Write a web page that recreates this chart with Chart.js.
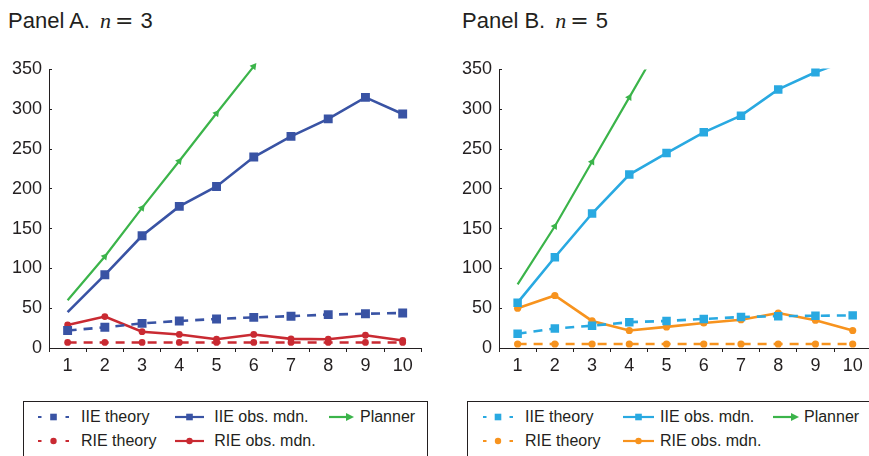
<!DOCTYPE html>
<html><head><meta charset="utf-8">
<script src="https://cdn.jsdelivr.net/npm/chart.js@4"></script>
<style>
html,body{margin:0;padding:0;background:#fff;}
body{width:869px;height:456px;overflow:hidden;position:relative;font-family:'Liberation Sans',Arial,sans-serif;color:#231f20;}
.title{position:absolute;font-size:22px;line-height:22px;white-space:nowrap;}
.m{font-family:'Liberation Serif','Times New Roman',serif;font-style:italic;margin-left:4px;}
.eq{font-family:'DejaVu Serif',serif;font-weight:300;margin:0 7px 0 4px;}
.wrap{position:absolute;top:0;width:440px;height:380px;}
.legend{position:absolute;border:1px solid #231f20;box-sizing:border-box;}
.lab{position:absolute;font-size:16px;line-height:20px;height:20px;white-space:nowrap;}
.ico{position:absolute;}
</style></head><body>
<div class="title" style="left:8px;top:10px">Panel A.&nbsp;<span class="m">n</span><span class="eq">=</span>3</div>
<div class="title" style="left:462px;top:10px">Panel B.&nbsp;<span class="m">n</span><span class="eq">=</span>5</div>
<div class="wrap" style="left:0px"><canvas id="cA" width="440" height="380"></canvas></div>
<div class="wrap" style="left:450px"><canvas id="cB" width="440" height="380"></canvas></div>
<div id="legA" class="legend" style="left:22.7px;top:400.7px;width:405.3px;height:70px"></div>
<div id="legB" class="legend" style="left:467.3px;top:400.7px;width:420px;height:70px"></div>
<script>
// ---- data ----
const categories = ['1','2','3','4','5','6','7','8','9','10'];
const yTicks = [0, 50, 100, 150, 200, 250, 300, 350];
const seriesLabels = ['IIE theory', 'IIE obs. mdn.', 'Planner', 'RIE theory', 'RIE obs. mdn.'];

// Panel A, n = 3
const aIieTheory = [22, 26, 31, 34, 36.5, 38.5, 40, 42, 43, 44];
const aIieObs    = [45, 92, 141, 178, 203, 240, 266, 288, 315, 294];
const aPlanner   = [60, 115, 176, 235, 295, 354, null, null, null, null];
const aRieTheory = [7, 7, 7, 7, 7, 7, 7, 7, 7, 7];
const aRieObs    = [29, 39.5, 20.5, 17, 11, 17, 11.5, 11, 16, 9.5];

// Panel B, n = 5
const bIieTheory = [18, 24.5, 28, 32.5, 34, 36.5, 39, 40, 40.5, 41];
const bIieObs    = [57, 114, 169, 218, 245, 271, 292, 325, 346.5, 364];
const bPlanner   = [80, 153, 234, 315, 396, null, null, null, null, null];
const bRieTheory = [5, 5, 5, 5, 5, 5, 5, 5, 5, 5];
const bRieObs    = [50, 66, 34, 22, 26.5, 31.5, 35.5, 44, 35, 22];

const INK = '#231f20';
const FONT = "'Liberation Sans', Arial, sans-serif";

function arrowRotation(ctx) {
  const ch = ctx.chart, i = ctx.dataIndex;
  const xs = ch.scales.x, ys = ch.scales.y;
  const d = ctx.dataset.data;
  if (!xs || !ys || i < 1 || d[i] == null || d[i-1] == null) return 0;
  const dx = xs.getPixelForValue(i) - xs.getPixelForValue(i - 1);
  const dy = ys.getPixelForValue(d[i]) - ys.getPixelForValue(d[i - 1]);
  return Math.atan2(dx, -dy) * 180 / Math.PI;
}

function makePanel(id, s, col, opt) {
  const sq = opt.sq, dot = opt.dot;
  const datasets = [
    {label: seriesLabels[0], data: s.iieTheory, borderColor: col.iie, backgroundColor: col.iie,
     borderWidth: 2.6, borderDash: [9, 7], pointStyle: 'rect', pointRadius: sq, pointBorderWidth: 0,
     icon: 'dash', marker: 'rect'},
    {label: seriesLabels[1], data: s.iieObs, borderColor: col.iie, backgroundColor: col.iie,
     borderWidth: 2.6, pointStyle: 'rect', pointRadius: s.iieObs.map((v, i) => (i === 0 && !opt.firstObsMarker) ? 0 : sq),
     pointBorderWidth: 0, clip: {left: 10, right: 0, top: 1, bottom: 10}, icon: 'solid', marker: 'rect'},
    {label: seriesLabels[2], data: s.planner, borderColor: col.plan, backgroundColor: col.plan,
     borderWidth: 2.2, pointStyle: 'triangle', pointRadius: s.planner.map((v, i) => i === 0 ? 0 : 4.2),
     pointBorderWidth: 0, pointRotation: arrowRotation, clip: opt.planClip, icon: 'arrow'},
    {label: seriesLabels[3], data: s.rieTheory, borderColor: col.rie, backgroundColor: col.rie,
     borderWidth: 2.6, borderDash: [9, 7], pointStyle: 'circle', pointRadius: dot, pointBorderWidth: 0,
     icon: 'dash', marker: 'circle'},
    {label: seriesLabels[4], data: s.rieObs, borderColor: col.rie, backgroundColor: col.rie,
     borderWidth: 2.6, pointStyle: 'circle', pointRadius: dot, pointBorderWidth: 0,
     icon: 'solid', marker: 'circle'}
  ];
  const chart = new Chart(document.getElementById(id), {
    type: 'line',
    data: {labels: categories, datasets},
    options: {
      responsive: false, animation: false,
      layout: {padding: {top: 69.5, right: 18.7, bottom: 0, left: 0}},
      elements: {line: {tension: 0, fill: false}},
      plugins: {legend: {display: false}, tooltip: {enabled: false}},
      scales: {
        x: {
          type: 'category', offset: true,
          grid: {offset: true, drawOnChartArea: false, drawTicks: true, tickLength: 4, color: INK, lineWidth: 1},
          border: {display: true, color: INK, width: 1},
          ticks: {font: {size: 18, family: FONT}, color: INK, padding: 3, maxRotation: 0, autoSkip: false},
          afterFit: sc => { sc.height = 32; }
        },
        y: {
          min: 0, max: 350,
          grid: {drawOnChartArea: false, drawTicks: true, tickLength: -3, color: INK, lineWidth: 1},
          border: {display: true, color: INK, width: 1},
          ticks: {font: {size: 18, family: FONT}, color: INK, padding: 10},
          afterBuildTicks: sc => { sc.ticks = yTicks.map(v => ({value: v})); },
          afterFit: sc => { sc.width = 49; }
        }
      }
    }
  });
  return chart;
}

function drawIcon(cv, ds) {
  const c = cv.getContext('2d');
  const w = cv.width, h = cv.height, y = h / 2;
  c.strokeStyle = ds.borderColor; c.fillStyle = ds.borderColor; c.lineWidth = 2.2;
  c.lineCap = 'butt';
  const mid = w / 2;
  function marker(x) {
    if (ds.marker === 'rect') { c.fillRect(x - 3.3, y - 3.3, 6.6, 6.6); }
    else if (ds.marker === 'circle') { c.beginPath(); c.arc(x, y, 3.2, 0, Math.PI * 2); c.fill(); }
  }
  if (ds.icon === 'dash') {
    c.beginPath(); c.moveTo(1, y); c.lineTo(4.5, y); c.moveTo(w - 4.5, y); c.lineTo(w - 1, y); c.stroke();
    marker(mid);
  } else if (ds.icon === 'solid') {
    c.beginPath(); c.moveTo(0, y); c.lineTo(w, y); c.stroke();
    marker(mid);
  } else {
    c.beginPath(); c.moveTo(0, y); c.lineTo(w - 6, y); c.stroke();
    c.beginPath(); c.moveTo(w, y); c.lineTo(w - 8, y - 4); c.lineTo(w - 8, y + 4); c.closePath(); c.fill();
  }
}

function buildLegend(chart, el, cols, originX, originY) {
  const rows = [407.7, 431.7];
  chart.data.datasets.forEach((ds, i) => {
    const r = i < 3 ? 0 : 1, k = i < 3 ? i : i - 3;
    const cc = cols[k];
    const cv = document.createElement('canvas');
    cv.width = Math.round(cc[1]); cv.height = 20; cv.className = 'ico';
    cv.style.left = (cc[0] - originX) + 'px'; cv.style.top = (rows[r] - originY - 1) + 'px';
    el.appendChild(cv);
    drawIcon(cv, ds);
    const sp = document.createElement('span');
    sp.className = 'lab'; sp.textContent = ds.label;
    sp.style.left = (cc[2] - originX) + 'px'; sp.style.top = (rows[r] - originY - 1) + 'px';
    el.appendChild(sp);
  });
}

const chA = makePanel('cA',
  {iieTheory: aIieTheory, iieObs: aIieObs, planner: aPlanner, rieTheory: aRieTheory, rieObs: aRieObs},
  {iie: '#3953a4', rie: '#c92a32', plan: '#3bb44a'},
  {sq: 6.3, dot: 3.4, firstObsMarker: false, planClip: false});
const chB = makePanel('cB',
  {iieTheory: bIieTheory, iieObs: bIieObs, planner: bPlanner, rieTheory: bRieTheory, rieObs: bRieObs},
  {iie: '#29a9e1', rie: '#f7931e', plan: '#3bb44a'},
  {sq: 6.0, dot: 3.6, firstObsMarker: true, planClip: 0});

buildLegend(chA, document.getElementById('legA'), [[37, 33, 81], [174.7, 29.3, 214.3], [329, 25, 360]], 23.7, 401.7);
buildLegend(chB, document.getElementById('legB'), [[481.7, 32.3, 525], [622.7, 30.6, 660], [773, 26, 804]], 468.3, 401.7);
</script>
</body></html>
